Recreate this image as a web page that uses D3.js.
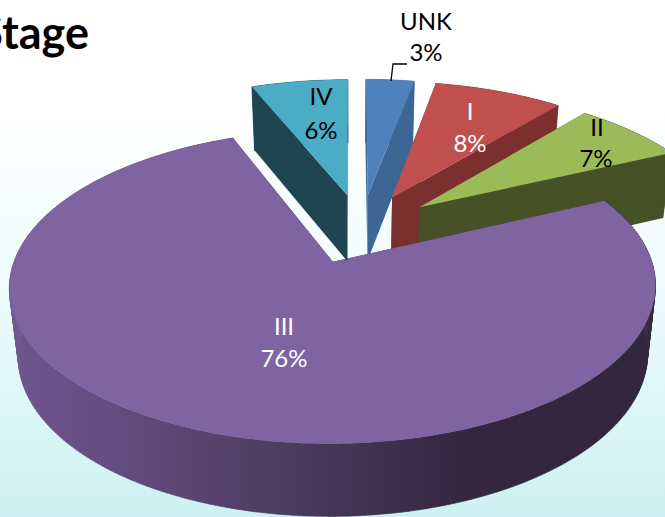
<!DOCTYPE html>
<html><head><meta charset="utf-8">
<script src="https://cdn.jsdelivr.net/npm/d3@7"></script>
<style>html,body{margin:0;padding:0;background:#fff}svg{display:block}</style>
</head><body>
<svg id="c" width="665" height="517"></svg>
<script>
const categories = ["UNK", "I", "II", "III", "IV"];
const values = [3, 8, 7, 76, 6];
const topColors = ["#4f81bd", "#c0504d", "#9bbb59", "#8064a2", "#4bacc6"];
const wallColors = ["#3c6795", "#7b302f", "#465226", "url(#wall)", "#1e4550"];
const labelColors = ["#000", "#fff", "#000", "#fff", "#000"];
const labelPos = [[426,20,426,51],[470,110,470,142],[597,126,596,157],[284,325,284,357],[321,95,321,129]];
const title = "Stage";

const svg = d3.select("#c");
const defs = svg.append("defs");
const bg = defs.append("linearGradient").attr("id","bg").attr("x1",0).attr("y1",0).attr("x2",0).attr("y2",1);
[[0,"#ffffff"],[0.2,"#ffffff"],[0.5,"#f2fcfd"],[1,"#cdf1f3"]].forEach(s=>bg.append("stop").attr("offset",s[0]).attr("stop-color",s[1]));
const wg = defs.append("linearGradient").attr("id","wall").attr("gradientUnits","userSpaceOnUse").attr("x1",10).attr("y1",0).attr("x2",470).attr("y2",0);
[[0,"#6f5690"],[0.35,"#5d4775"],[0.7,"#463656"],[1,"#33263f"]].forEach(s=>wg.append("stop").attr("offset",s[0]).attr("stop-color",s[1]));
svg.append("rect").attr("width",665).attr("height",517).attr("fill","url(#bg)");

// perspective ground plane, radius = 1, vanishing towards Xv
const Xv = 352, R = 319, U0 = (Xv-332)/R;
const topPlane = {y0:262, a:153, p:0.159, k:1};
const botPlane = {y0:330, a:157, p:0.159, k:0.974};
const centre = [0.093, 0.229], explode = 0.245;
const proj = (pl,u,v) => { const s = 1/(1+pl.p*v); return [Xv + R*pl.k*(u-U0)*s, pl.y0 - pl.a*v*s]; };

const arcs = d3.pie().sort(null).value(d=>d)(values);
const line = d3.line();
function slicePts(d, pl){
  const mid = (d.startAngle+d.endAngle)/2;
  const cu = centre[0]+explode*Math.sin(mid), cv = centre[1]+explode*Math.cos(mid);
  const n = Math.max(6, Math.ceil((d.endAngle-d.startAngle)*60));
  const rim = d3.range(n+1).map(i=>{
    const t = d.startAngle+(d.endAngle-d.startAngle)*i/n;
    return proj(pl, cu+Math.sin(t), cv+Math.cos(t));
  });
  return {apex: proj(pl,cu,cv), rim};
}
arcs.forEach((d,i)=>{
  const t = slicePts(d,topPlane), b = slicePts(d,botPlane);
  const g = svg.append("g").attr("class","slice");
  const wall = pts => g.append("path").attr("d",line(pts)+"Z").attr("fill",wallColors[i]);
  wall([t.apex,t.rim[0],b.rim[0],b.apex]);
  wall([t.apex,t.rim[t.rim.length-1],b.rim[b.rim.length-1],b.apex]);
  // outer wall as joined quads, so that the silhouette follows the tangents
  const quads = d3.range(t.rim.length-1).map(k=>{
    const q=[t.rim[k],t.rim[k+1],b.rim[k+1],b.rim[k]];
    return line(q)+"Z";
  }).join("");
  g.append("path").attr("d",quads).attr("fill",wallColors[i]).attr("stroke",wallColors[i]).attr("stroke-width",0.6);
  g.append("path").attr("d",line([t.apex].concat(t.rim))+"Z").attr("fill",topColors[i]);
});

// leader line for UNK
svg.append("path").attr("d",line([[391,81],[393,64],[407,64]])).attr("fill","none").attr("stroke","#000").attr("stroke-width",1.3);

const font = "Lato, 'Open Sans', sans-serif";
categories.forEach((c,i)=>{
  const p = labelPos[i];
  [[c,p[0],p[1]],[values[i]+"%",p[2],p[3]]].forEach(([txt,x,y])=>{
    svg.append("text").attr("x",x).attr("y",y).attr("text-anchor","middle").attr("dominant-baseline","central")
      .attr("font-family",font).attr("font-size",24).attr("fill",labelColors[i]).text(txt);
  });
});
svg.append("text").attr("x",89).attr("y",49).attr("text-anchor","end")
  .attr("font-family",font).attr("font-weight",700).attr("font-size",45).attr("fill","#000").text(title);
</script>
</body></html>
